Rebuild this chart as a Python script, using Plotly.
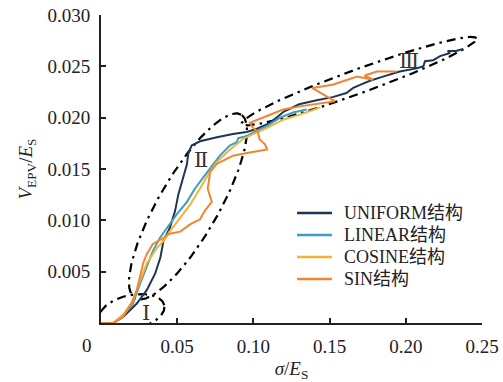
import numpy as np
import plotly.graph_objects as go

# ---------------- data ----------------
uniform_x = [0, 0.008, 0.0145, 0.0235, 0.030, 0.0355, 0.039, 0.041, 0.045, 0.0486, 0.0507, 0.054,
             0.0563, 0.0573, 0.0595, 0.065, 0.076, 0.0866, 0.0955, 0.102, 0.111, 0.120, 0.130,
             0.1415, 0.152, 0.161, 0.1655, 0.170, 0.1765, 0.185, 0.196, 0.207, 0.2115, 0.2126,
             0.218, 0.2225, 0.229, 0.2275, 0.233, 0.2377]
uniform_y = [0, 0, 0.0006, 0.0019, 0.0032, 0.0048, 0.0064, 0.0080, 0.0092, 0.0109, 0.0125, 0.0141,
             0.0154, 0.0165, 0.0173, 0.0177, 0.0181, 0.0184, 0.0186, 0.0189, 0.0195, 0.0206, 0.0213,
             0.0217, 0.0220, 0.0224, 0.0229, 0.0232, 0.0236, 0.0240, 0.0245, 0.0248, 0.0250, 0.0255,
             0.0256, 0.0260, 0.0263, 0.0265, 0.0265, 0.0267]

linear_x = [0, 0.008, 0.015, 0.021, 0.0256, 0.030, 0.034, 0.0387, 0.043, 0.0498, 0.0564, 0.0617,
            0.0682, 0.0735, 0.078, 0.0847, 0.089, 0.090, 0.0955, 0.102, 0.109, 0.1175, 0.126, 0.135]
linear_y = [0, 0, 0.0008, 0.0019, 0.0038, 0.0054, 0.0070, 0.0083, 0.0092, 0.0106, 0.0118, 0.0131,
            0.0144, 0.0154, 0.0163, 0.0173, 0.0176, 0.0180, 0.0182, 0.0187, 0.0192, 0.0200, 0.0205, 0.0208]

cosine_x = [0, 0.008, 0.015, 0.021, 0.0256, 0.030, 0.0367, 0.041, 0.045, 0.052, 0.0584, 0.065,
            0.070, 0.076, 0.0847, 0.093, 0.0997, 0.109, 0.1195, 0.1305, 0.1437]
cosine_y = [0, 0, 0.0009, 0.0022, 0.0041, 0.0058, 0.0073, 0.0080, 0.0089, 0.0102, 0.0115, 0.0131,
            0.0144, 0.0157, 0.0169, 0.0179, 0.0184, 0.0190, 0.0198, 0.0203, 0.0210]

sin_x = [0, 0.008, 0.0145, 0.020, 0.0235, 0.0256, 0.0276, 0.030, 0.034, 0.041, 0.045, 0.052, 0.0584,
         0.065, 0.068, 0.0727, 0.070, 0.071, 0.0715, 0.076, 0.0866, 0.0977, 0.109, 0.1076, 0.104,
         0.103, 0.0997, 0.0977, 0.106, 0.1195, 0.1305, 0.1437, 0.1535, 0.150, 0.1385, 0.152, 0.168,
         0.1785, 0.173, 0.181, 0.194]
sin_y = [0, 0, 0.0006, 0.0019, 0.0032, 0.0044, 0.0058, 0.0067, 0.0077, 0.0083, 0.0087, 0.0089, 0.0096,
         0.0101, 0.0109, 0.0118, 0.0131, 0.0140, 0.0147, 0.0155, 0.0163, 0.0166, 0.0169, 0.0174, 0.0179,
         0.0186, 0.0190, 0.0195, 0.0200, 0.0208, 0.0211, 0.0214, 0.0216, 0.0219, 0.0229, 0.0232, 0.0240,
         0.0237, 0.0241, 0.0245, 0.0245]

series_names = ["UNIFORM结构", "LINEAR结构", "COSINE结构", "SIN结构"]
series_colors = ["#1d3656", "#3a9fc2", "#f4b335", "#f28630"]

x_tick_vals = [0.05, 0.10, 0.15, 0.20, 0.25]
x_tick_text = ["0.05", "0.10", "0.15", "0.20", "0.25"]
y_tick_vals = [0.005, 0.010, 0.015, 0.020, 0.025, 0.030]
y_tick_text = ["0.005", "0.010", "0.015", "0.020", "0.025", "0.030"]

# region ellipses: centre (data), semi-axes (x-data units), tilt angle (deg, screen)
regions = [
    dict(cx=0.0203, cy=0.00106, a=0.0217, b=0.0112, ang=12, label="Ⅰ", lx=0.0295, ly=0.00096),
    dict(cx=0.0571, cy=0.01135, a=0.0696, b=0.0197, ang=60, label="Ⅱ", lx=0.0656, ly=0.01587),
    dict(cx=0.1693, cy=0.02356, a=0.0820, b=0.0079, ang=20, label="Ⅲ", lx=0.2021, ly=0.02548),
]

# ---------------- figure ----------------
W, H = 503, 382
ML, MR, MT, MB = 101, 21, 15, 59
PW, PH = W - ML - MR, H - MT - MB
X_RANGE = [0, 0.25]
Y_RANGE = [0, 0.030]
px_per_x = PW / (X_RANGE[1] - X_RANGE[0])
px_per_y = PH / (Y_RANGE[1] - Y_RANGE[0])

SERIF = "Liberation Serif"
LEG_FONT = "Liberation Serif, Noto Sans CJK SC"
TXT = "#222222"

fig = go.Figure()

# ellipses (dash-dot)
t = np.linspace(0, 2 * np.pi, 200)
for r in regions:
    phi = np.radians(r["ang"])
    dx = r["a"] * np.cos(t) * np.cos(phi) - r["b"] * np.sin(t) * np.sin(phi)
    dy = r["a"] * np.cos(t) * np.sin(phi) + r["b"] * np.sin(t) * np.cos(phi)
    fig.add_trace(go.Scatter(
        x=r["cx"] + dx, y=r["cy"] + dy * px_per_x / px_per_y,
        mode="lines", line=dict(color="black", width=2.2, dash="9px,5px,2.5px,5px"),
        showlegend=False, hoverinfo="skip", cliponaxis=False))

for xs, ys, name, col in zip([uniform_x, linear_x, cosine_x, sin_x],
                             [uniform_y, linear_y, cosine_y, sin_y],
                             series_names, series_colors):
    fig.add_trace(go.Scatter(x=xs, y=ys, mode="lines", name=name,
                             line=dict(color=col, width=2), showlegend=False))

# manual legend (fixed row spacing like the reference)
leg_x0, leg_x1, leg_tx = 297, 332, 342      # figure pixels
leg_y0, leg_dy = 213, 22
for i, (name, col) in enumerate(zip(series_names, series_colors)):
    yy = 1 - (leg_y0 + i * leg_dy - MT) / PH
    fig.add_shape(type="line", xref="paper", yref="paper",
                  x0=(leg_x0 - ML) / PW, x1=(leg_x1 - ML) / PW, y0=yy, y1=yy,
                  line=dict(color=col, width=2.5))
    fig.add_annotation(xref="paper", yref="paper", x=(leg_tx - ML) / PW, y=yy,
                       xanchor="left", yanchor="middle", text=name, showarrow=False,
                       font=dict(family=LEG_FONT, size=18, color=TXT))

for r in regions:
    fig.add_annotation(x=r["lx"], y=r["ly"], text=r["label"], showarrow=False,
                       font=dict(family="DejaVu Serif", size=21, color="#333333"))

# origin "0" label
fig.add_annotation(x=0, y=0, text="0", showarrow=False, xshift=-14, yshift=-22,
                   font=dict(family=SERIF, size=19, color=TXT))

fig.update_layout(
    width=W, height=H,
    margin=dict(l=ML, r=MR, t=MT, b=MB),
    plot_bgcolor="white", paper_bgcolor="white",
    font=dict(family=SERIF, size=19, color=TXT),
    showlegend=False,
    xaxis=dict(range=X_RANGE, tickvals=x_tick_vals, ticktext=x_tick_text,
               showgrid=False, zeroline=False, showline=True, linecolor=TXT, linewidth=2,
               ticks="inside", ticklen=5, tickwidth=2, tickcolor=TXT,
               ticklabelstandoff=5, automargin=False, ticklabeloverflow="allow",
               tickfont=dict(family=SERIF, size=19, color=TXT),
               title=dict(text="<i>σ</i>/<i>E</i><sub>S</sub>", standoff=9,
                          font=dict(family=SERIF, size=19, color=TXT))),
    yaxis=dict(range=Y_RANGE, tickvals=y_tick_vals, ticktext=y_tick_text,
               showgrid=False, zeroline=False, showline=True, linecolor=TXT, linewidth=2,
               ticks="inside", ticklen=5, tickwidth=2, tickcolor=TXT,
               ticklabelstandoff=5, automargin=False, ticklabeloverflow="allow",
               tickfont=dict(family=SERIF, size=19, color=TXT),
               title=dict(text="<i>V</i><sub>EPV</sub>/<i>E</i><sub>S</sub>", standoff=10,
                          font=dict(family=SERIF, size=19, color=TXT))),
)

# remove the browser's default 8px page margin so the figure fills the window
fig.write_html("out.html", config={"displayModeBar": False},
               post_script="document.body.style.margin='0';")
